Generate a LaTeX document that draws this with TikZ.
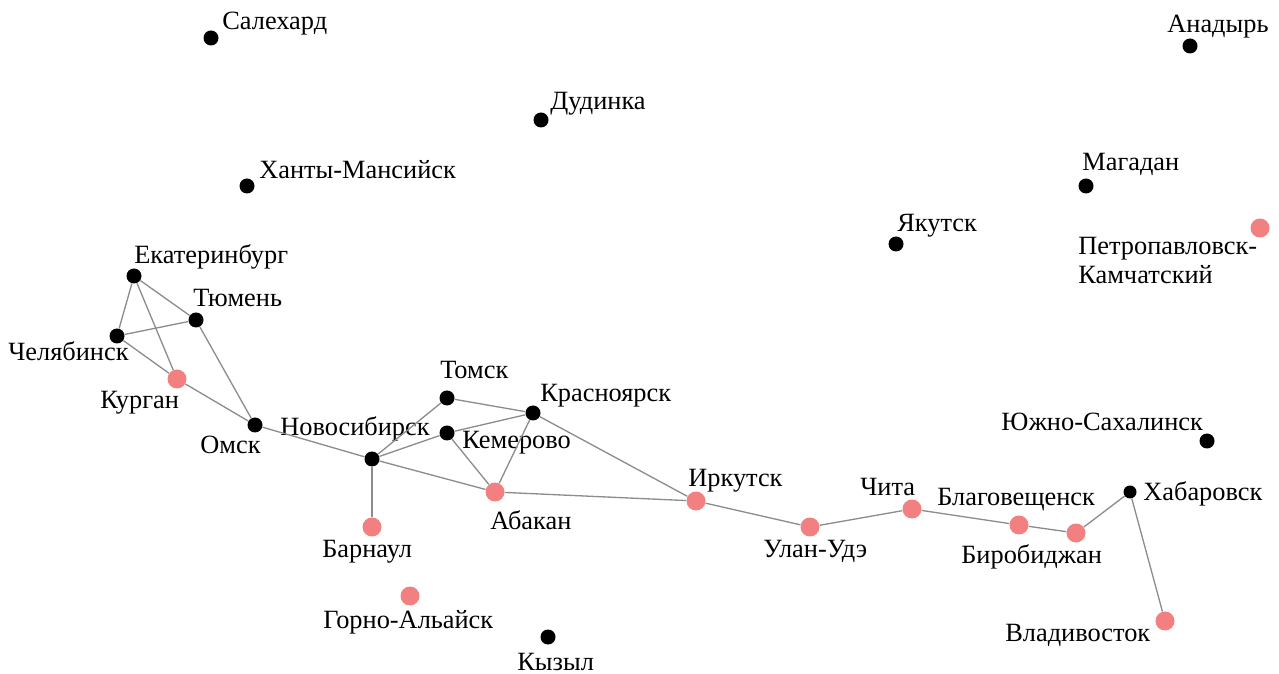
\documentclass[tikz,border=0pt]{standalone}
\usepackage{fontspec}
\setmainfont{Liberation Serif}
\usepackage{tikz}
\usepackage{xcolor}
\definecolor{citypink}{RGB}{242,128,128}
\definecolor{roadgray}{RGB}{140,140,140}

\begin{document}
\begin{tikzpicture}[x=0.2mm, y=-0.2mm,
    bcity/.style={shape=circle, inner sep=0pt, minimum size=3mm, fill=black},
    pcity/.style={shape=circle, inner sep=0pt, minimum size=3.8mm, fill=citypink},
    lbl/.style={font=\fontsize{15}{17}\selectfont, inner sep=0pt, anchor=base west},
    road/.style={draw=roadgray, line width=0.75pt}]
    \useasboundingbox (0,0) rectangle (1279,674);

    % cities
    \node[bcity] (salekhard) at (211,38) {};
    \node[bcity] (dudinka) at (541,120) {};
    \node[bcity] (anadyr) at (1190,46) {};
    \node[bcity] (khmansiysk) at (247,186) {};
    \node[bcity] (magadan) at (1086,186) {};
    \node[bcity] (yakutsk) at (896,244) {};
    \node[pcity] (petropavlovsk) at (1260,228) {};
    \node[bcity] (ekaterinburg) at (134,276) {};
    \node[bcity] (tyumen) at (196,320) {};
    \node[bcity] (chelyabinsk) at (117,336) {};
    \node[pcity] (kurgan) at (177,379) {};
    \node[bcity] (omsk) at (255,425) {};
    \node[bcity] (novosibirsk) at (372,459) {};
    \node[bcity] (tomsk) at (447,398) {};
    \node[bcity] (krasnoyarsk) at (533,413) {};
    \node[bcity] (kemerovo) at (447,433) {};
    \node[pcity] (abakan) at (495,492) {};
    \node[pcity] (barnaul) at (372,527) {};
    \node[pcity] (gornoaltaysk) at (410,596) {};
    \node[bcity] (kyzyl) at (548,637) {};
    \node[pcity] (irkutsk) at (696,501) {};
    \node[pcity] (ulanude) at (810,527) {};
    \node[pcity] (chita) at (912,509) {};
    \node[pcity] (blagoveshchensk) at (1019,525) {};
    \node[pcity] (birobidzhan) at (1076,533) {};
    \node[bcity, minimum size=2.6mm] (khabarovsk) at (1130,492) {};
    \node[pcity] (vladivostok) at (1165,621) {};
    \node[bcity] (yuzhno) at (1207,441) {};

    % names
    \node[lbl] (n-salekhard) at (222,30) {Салехард};
    \node[lbl] (n-dudinka) at (550,110) {Дудинка};
    \node[lbl] (n-anadyr) at (1167,33) {Анадырь};
    \node[lbl] (n-khmansiysk) at (259,179) {Ханты-Мансийск};
    \node[lbl] (n-magadan) at (1082,171) {Магадан};
    \node[lbl] (n-yakutsk) at (897,232) {Якутск};
    \node[lbl, align=left] (n-petropavlovsk) at (1078,284) {Петропавловск-\\Камчатский};
    \node[lbl] (n-ekaterinburg) at (134,264) {Екатеринбург};
    \node[lbl] (n-tyumen) at (193,307) {Тюмень};
    \node[lbl] (n-chelyabinsk) at (8,361) {Челябинск};
    \node[lbl] (n-kurgan) at (100,409) {Курган};
    \node[lbl] (n-omsk) at (200,454) {Омск};
    \node[lbl] (n-novosibirsk) at (280,436) {Новосибирск};
    \node[lbl] (n-tomsk) at (440,379) {Томск};
    \node[lbl] (n-krasnoyarsk) at (540,402) {Красноярск};
    \node[lbl] (n-kemerovo) at (462,449) {Кемерово};
    \node[lbl] (n-abakan) at (490,529) {Абакан};
    \node[lbl] (n-barnaul) at (322,558) {Барнаул};
    \node[lbl] (n-gornoaltaysk) at (323,628) {Горно-Альайск};
    \node[lbl] (n-kyzyl) at (517,670) {Кызыл};
    \node[lbl] (n-irkutsk) at (688,486) {Иркутск};
    \node[lbl] (n-ulanude) at (763,558) {Улан-Удэ};
    \node[lbl] (n-chita) at (860,496) {Чита};
    \node[lbl] (n-blagoveshchensk) at (937,506) {Благовещенск};
    \node[lbl] (n-birobidzhan) at (961,563) {Биробиджан};
    \node[lbl] (n-khabarovsk) at (1143,500) {Хабаровск};
    \node[lbl] (n-vladivostok) at (1005,641) {Владивосток};
    \node[lbl] (n-yuzhno) at (1001,431) {Южно-Сахалинск};

    % roads
    \draw[road] (ekaterinburg) -- (chelyabinsk);
    \draw[road] (ekaterinburg) -- (tyumen);
    \draw[road] (ekaterinburg) -- (kurgan);
    \draw[road] (chelyabinsk) -- (tyumen);
    \draw[road] (chelyabinsk) -- (kurgan);
    \draw[road] (kurgan) -- (omsk);
    \draw[road] (tyumen) -- (omsk);
    \draw[road] (omsk) -- (novosibirsk);
    \draw[road] (novosibirsk) -- (tomsk);
    \draw[road] (novosibirsk) -- (kemerovo);
    \draw[road] (novosibirsk) -- (abakan);
    \draw[road] (novosibirsk) -- (barnaul);
    \draw[road] (tomsk) -- (krasnoyarsk);
    \draw[road] (kemerovo) -- (krasnoyarsk);
    \draw[road] (kemerovo) -- (abakan);
    \draw[road] (krasnoyarsk) -- (abakan);
    \draw[road] (krasnoyarsk) -- (irkutsk);
    \draw[road] (abakan) -- (irkutsk);
    \draw[road] (irkutsk) -- (ulanude);
    \draw[road] (ulanude) -- (chita);
    \draw[road] (chita) -- (blagoveshchensk);
    \draw[road] (blagoveshchensk) -- (birobidzhan);
    \draw[road] (birobidzhan) -- (khabarovsk);
    \draw[road] (khabarovsk) -- (vladivostok);
\end{tikzpicture}
\end{document}
